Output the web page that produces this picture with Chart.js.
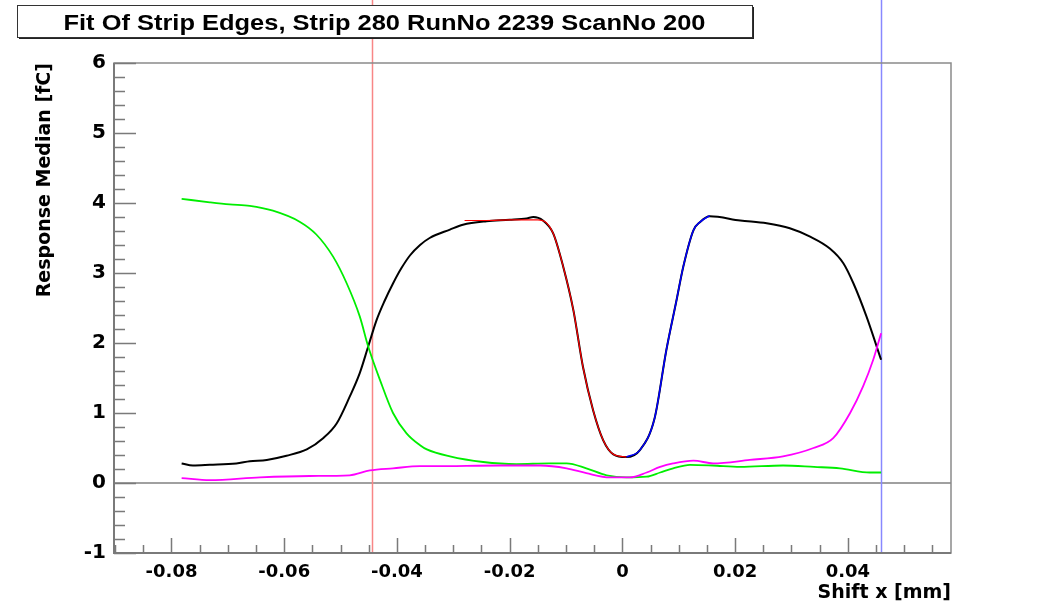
<!DOCTYPE html>
<html>
<head>
<meta charset="utf-8">
<script src="https://cdn.jsdelivr.net/npm/chart.js@4.4.0/dist/chart.umd.min.js"></script>
<style>
  body { margin: 0; background: #fff; }
  canvas { display: block; }
</style>
</head>
<body>
<canvas id="EdgeChart" width="1053" height="608"></canvas>
<script>
// strip response vs shift
const blackX = [-0.0782, -0.0762, -0.0732, -0.0685, -0.0661, -0.0631, -0.0596, -0.0560, -0.0531, -0.0507,
  -0.0484, -0.0466, -0.0451, -0.0436, -0.0422, -0.0407, -0.0392, -0.0377, -0.0359, -0.0342, -0.0306,
  -0.0283, -0.0241, -0.0200, -0.0170, -0.0158, -0.0141, -0.0123, -0.0105, -0.0087, -0.0070,
  -0.0052, -0.0034, -0.0016, 0.0007, 0.0031, 0.0057, 0.0078, 0.0096, 0.0108, 0.0126,
  0.0138, 0.0155, 0.0209, 0.0256, 0.0297, 0.0333, 0.0368, 0.0392, 0.0410, 0.0433, 0.0459];
const blackY = [0.28, 0.25, 0.26, 0.28, 0.31, 0.33, 0.39, 0.48, 0.64, 0.85,
  1.23, 1.57, 1.95, 2.33, 2.60, 2.85, 3.07, 3.25, 3.40, 3.50, 3.62,
  3.69, 3.74, 3.76, 3.78, 3.80, 3.75, 3.57, 3.09, 2.47, 1.66,
  1.04, 0.61, 0.41, 0.37, 0.47, 0.92, 1.90, 2.61, 3.09, 3.61,
  3.73, 3.81, 3.75, 3.71, 3.64, 3.52, 3.35, 3.14, 2.85, 2.38, 1.76];

const greenX = [-0.0782, -0.0732, -0.0697, -0.0661, -0.0620, -0.0572, -0.0543, -0.0513, -0.0489, -0.0466,
  -0.0451, -0.0430, -0.0407, -0.0383, -0.0359, -0.0347, -0.0306, -0.0247, -0.0188, -0.0130,
  -0.0099, -0.0064, -0.0028, 0.0007, 0.0043, 0.0067, 0.0090, 0.0120, 0.0160, 0.0209,
  0.0285, 0.0340, 0.0386, 0.0439, 0.0459];
const greenY = [4.06, 4.01, 3.98, 3.96, 3.89, 3.73, 3.55, 3.23, 2.85, 2.38,
  1.95, 1.47, 1.00, 0.71, 0.54, 0.48, 0.38, 0.30, 0.27, 0.28,
  0.28, 0.21, 0.11, 0.08, 0.09, 0.15, 0.21, 0.26, 0.25, 0.23,
  0.25, 0.23, 0.21, 0.15, 0.15];

const magentaX = [-0.0782, -0.0732, -0.0643, -0.0555, -0.0484, -0.0448, -0.0407, -0.0359, -0.0336, -0.0217,
  -0.0146, -0.0099, -0.0064, -0.0022, 0.0013, 0.0043, 0.0067, 0.0090, 0.0126, 0.0161,
  0.0226, 0.0285, 0.0339, 0.0374, 0.0404, 0.0427, 0.0445, 0.0459];
const magentaY = [0.07, 0.04, 0.08, 0.10, 0.11, 0.18, 0.21, 0.24, 0.24, 0.25,
  0.25, 0.21, 0.14, 0.08, 0.08, 0.15, 0.23, 0.28, 0.32, 0.28,
  0.33, 0.38, 0.50, 0.64, 1.00, 1.38, 1.76, 2.14];

// edge fits
const redFitX = [-0.0280, -0.0241, -0.0200, -0.0170, -0.0150, -0.0135, -0.0123, -0.0105, -0.0087, -0.0070,
  -0.0052, -0.0034, -0.0016, 0.0007];
const redFitY = [3.75, 3.75, 3.76, 3.76, 3.76, 3.72, 3.57, 3.09, 2.47, 1.66,
  1.04, 0.61, 0.41, 0.37];
const blueFitX = [0.0007, 0.0031, 0.0057, 0.0078, 0.0096, 0.0108, 0.0126, 0.0138, 0.0155];
const blueFitY = [0.37, 0.47, 0.92, 1.90, 2.61, 3.09, 3.61, 3.73, 3.82];

// strip edge positions (vertical markers)
const edgePositions = [-0.0444, 0.0459];
const edgeColors = ['#f88686', '#8888ff'];

const chartTitle = 'Fit Of Strip Edges, Strip 280 RunNo 2239 ScanNo 200';
const xTickValues = [-0.08, -0.06, -0.04, -0.02, 0, 0.02, 0.04];
const xTickLabels = ['-0.08', '-0.06', '-0.04', '-0.02', '0', '0.02', '0.04'];
const yTickValues = [-1, 0, 1, 2, 3, 4, 5, 6];
const yTickLabels = ['-1', '0', '1', '2', '3', '4', '5', '6'];
const xRange = [-0.0902, 0.0583];
const yRange = [-1, 6];

function toPoints(xs, ys) {
  return xs.map((x, i) => ({ x: x, y: ys[i] }));
}

function labelFor(values, labels, v) {
  const i = values.findIndex(t => Math.abs(t - v) < 1e-9);
  return i >= 0 ? labels[i] : '';
}

// ROOT style frame: zero line, edge markers, inner ticks, title box
const rootFrame = {
  id: 'rootFrame',
  beforeDatasetsDraw(chart) {
    const { ctx, chartArea: a, scales: { x, y } } = chart;
    ctx.save();
    const y0 = y.getPixelForValue(0);
    ctx.strokeStyle = '#a0a0a0';
    ctx.lineWidth = 2;
    ctx.beginPath();
    ctx.moveTo(a.left, y0);
    ctx.lineTo(a.right, y0);
    ctx.stroke();

    ctx.lineWidth = 1.5;
    edgePositions.forEach((v, i) => {
      const px = Math.round(x.getPixelForValue(v)) + 0.5;
      ctx.strokeStyle = edgeColors[i];
      ctx.beginPath();
      ctx.moveTo(px, 0);
      ctx.lineTo(px, a.bottom);
      ctx.stroke();
    });
    ctx.restore();
  },
  afterDatasetsDraw(chart) {
    const { ctx, chartArea: a, scales: { x, y } } = chart;
    ctx.save();
    ctx.strokeStyle = '#8a8a8a';
    ctx.lineWidth = 1.5;
    ctx.strokeRect(a.left, a.top, a.right - a.left, a.bottom - a.top);

    ctx.strokeStyle = '#7a7a7a';
    ctx.lineWidth = 2;
    ctx.beginPath();
    ctx.moveTo(a.left, a.top);
    ctx.lineTo(a.left, a.bottom);
    ctx.lineTo(a.right, a.bottom);
    ctx.stroke();

    // y ticks every 0.2, major every 1
    ctx.lineWidth = 1.5;
    ctx.beginPath();
    for (let i = 0; i <= 35; i++) {
      const v = yRange[0] + i * 0.2;
      const py = Math.round(y.getPixelForValue(v)) + 0.5;
      const len = i % 5 === 0 ? 22 : 11;
      ctx.moveTo(a.left, py);
      ctx.lineTo(a.left + len, py);
    }
    // x ticks every 0.005, major every 0.02
    for (let i = 0; i <= 29; i++) {
      const v = -0.09 + i * 0.005;
      const px = Math.round(x.getPixelForValue(v)) + 0.5;
      const major = Math.abs(Math.round(v / 0.02) * 0.02 - v) < 1e-9;
      ctx.moveTo(px, a.bottom);
      ctx.lineTo(px, a.bottom - (major ? 15 : 8));
    }
    ctx.stroke();
    ctx.restore();
  },
  afterDraw(chart) {
    const { ctx } = chart;
    ctx.save();
    const bx = 17, by = 5, bw = 735, bh = 32;
    ctx.fillStyle = '#222';
    ctx.fillRect(bx + 2, by + 2, bw, bh);
    ctx.fillStyle = '#fff';
    ctx.fillRect(bx, by, bw, bh);
    ctx.strokeStyle = '#333';
    ctx.lineWidth = 1;
    ctx.strokeRect(bx + 0.5, by + 0.5, bw, bh);

    ctx.font = 'bold 22px "Liberation Sans", Arial, sans-serif';
    ctx.fillStyle = '#000';
    ctx.textBaseline = 'alphabetic';
    ctx.textAlign = 'center';
    const w = ctx.measureText(chartTitle).width;
    const sx = 642 / w;
    ctx.translate(bx + bw / 2, 29.5);
    ctx.scale(sx, 1);
    ctx.fillText(chartTitle, 0, 0);
    ctx.restore();
  }
};

const tickFont = { family: '"DejaVu Sans", sans-serif', weight: 'bold' };

const ctx = document.getElementById('EdgeChart').getContext('2d');
new Chart(ctx, {
  type: 'line',
  data: {
    datasets: [
      { label: 'fit left', data: toPoints(redFitX, redFitY), borderColor: '#ff0000', borderWidth: 1.2 },
      { label: 'fit right', data: toPoints(blueFitX, blueFitY), borderColor: '#0000ff', borderWidth: 1.5 },
      { label: 'right neighbour', data: toPoints(magentaX, magentaY), borderColor: '#ff00ff', borderWidth: 1.8 },
      { label: 'left neighbour', data: toPoints(greenX, greenY), borderColor: '#00ee00', borderWidth: 1.8 },
      { label: 'strip', data: toPoints(blackX, blackY), borderColor: '#000000', borderWidth: 2 }
    ]
  },
  options: {
    responsive: false,
    animation: false,
    elements: {
      point: { radius: 0 },
      line: { tension: 0, cubicInterpolationMode: 'monotone', fill: false }
    },
    layout: { padding: { top: 63, right: 102, left: 0, bottom: 0 } },
    plugins: {
      legend: { display: false },
      tooltip: { enabled: false }
    },
    scales: {
      x: {
        type: 'linear',
        min: xRange[0],
        max: xRange[1],
        grid: { display: false, drawTicks: false },
        border: { display: false },
        afterBuildTicks: s => { s.ticks = xTickValues.map(v => ({ value: v })); },
        afterFit: s => { s.height = 55; },
        ticks: {
          autoSkip: false,
          maxRotation: 0,
          padding: 9,
          color: '#000',
          font: Object.assign({ size: 18 }, tickFont),
          callback: v => labelFor(xTickValues, xTickLabels, v)
        },
        title: {
          display: true,
          text: 'Shift x [mm]',
          align: 'end',
          color: '#000',
          font: Object.assign({ size: 19 }, tickFont),
          padding: { top: 0, bottom: 4 }
        }
      },
      y: {
        min: yRange[0],
        max: yRange[1],
        grid: { display: false, drawTicks: false },
        border: { display: false },
        afterBuildTicks: s => { s.ticks = yTickValues.map(v => ({ value: v })); },
        afterFit: s => { s.width = 114; },
        ticks: {
          autoSkip: false,
          padding: 8,
          color: '#000',
          font: Object.assign({ size: 20 }, tickFont),
          callback: v => labelFor(yTickValues, yTickLabels, v)
        },
        title: {
          display: true,
          text: 'Response Median [fC]',
          align: 'end',
          color: '#000',
          font: Object.assign({ size: 19 }, tickFont),
          padding: { top: 34, bottom: 0 }
        }
      }
    }
  },
  plugins: [rootFrame]
});
</script>
</body>
</html>
